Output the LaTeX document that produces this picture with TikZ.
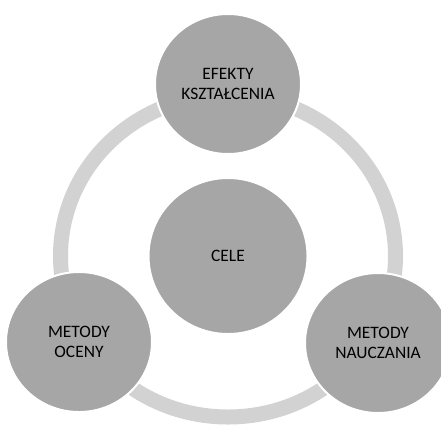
\documentclass[tikz,border=0pt]{standalone}
\usepackage{fontspec}
\setmainfont{Carlito}
\usetikzlibrary{shapes.geometric}
\definecolor{ringgray}{HTML}{D2D2D2}
\definecolor{discgray}{HTML}{A6A6A6}
\begin{document}
\begin{tikzpicture}[x=1bp, y=-1bp, every node/.style={ellipse, fill=discgray, draw=white, line width=2bp, inner sep=0pt, align=center, font=\fontsize{17.5}{20}\selectfont, minimum width=146bp, minimum height=140bp}]
\useasboundingbox (0,0) rectangle (441,428);
\coordinate (ring) at (228,256);
\draw[ringgray, line width=15bp] (ring) ellipse [x radius=167.5, y radius=161];
    \node (cele) at (228,256) [minimum width=159bp, minimum height=156bp] {CELE};
    \node (efekty) at (228,84) {EFEKTY\\KSZTAŁCENIA};
    \node (ocena) at (79,342) {METODY\\OCENY};
    \node (nauczanie) at (378,343) {METODY\\NAUCZANIA};
\end{tikzpicture}
\end{document}
